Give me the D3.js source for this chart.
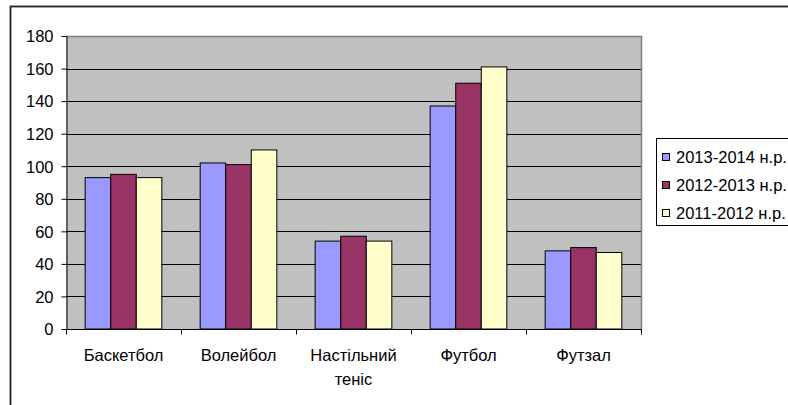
<!DOCTYPE html>
<html>
<head>
<meta charset="utf-8">
<script src="https://cdn.jsdelivr.net/npm/d3@7"></script>
<style>
  html, body { margin: 0; padding: 0; background: #fff; }
  svg { display: block; font-family: "Liberation Sans", Arial, sans-serif; }
</style>
</head>
<body>
<svg id="chart" width="788" height="405"></svg>
<script>
// Секції та кількість учасників за навчальні роки
const categories = ["Баскетбол", "Волейбол", "Настільний теніс", "Футбол", "Футзал"];
const seriesNames = ["2013-2014 н.р.", "2012-2013 н.р.", "2011-2012 н.р."];
const values2013_2014 = [93, 102, 54, 137, 48];
const values2012_2013 = [95, 101, 57, 151, 50];
const values2011_2012 = [93, 110, 54, 161, 47];
const yTicks = [0, 20, 40, 60, 80, 100, 120, 140, 160, 180];
const seriesColors = ["#9999FF", "#993366", "#FFFFCC"];

const seriesValues = [values2013_2014, values2012_2013, values2011_2012];
const FONT = "Liberation Sans, Arial, sans-serif";
const FS = 16.5;

const svg = d3.select("#chart");
const plot = { left: 66, top: 36, right: 641, bottom: 329 };

// Outer chart frame (extends past the right and bottom edges)
svg.append("rect")
  .attr("x", 10.5).attr("y", 6.5)
  .attr("width", 800).attr("height", 420)
  .attr("fill", "#fff").attr("stroke", "#222").attr("stroke-width", 1.8);

const x = d3.scaleBand().domain(categories).range([plot.left, plot.right]);
const y = d3.scaleLinear().domain([0, 180]).range([plot.bottom, plot.top]);

// Plot area background
svg.append("rect")
  .attr("x", plot.left).attr("y", plot.top)
  .attr("width", plot.right - plot.left).attr("height", plot.bottom - plot.top)
  .attr("fill", "#C0C0C0");

// Horizontal gridlines
svg.append("g").selectAll("line")
  .data(yTicks.filter(t => t > 0 && t < 180))
  .join("line")
  .attr("x1", plot.left).attr("x2", plot.right)
  .attr("y1", d => Math.round(y(d)) + 0.5).attr("y2", d => Math.round(y(d)) + 0.5)
  .attr("stroke", "#000").attr("stroke-width", 1);

// Plot area border (top and right)
svg.append("path")
  .attr("d", `M${plot.left},${plot.top + 0.5}H${plot.right + 0.5}V${plot.bottom}`)
  .attr("fill", "none").attr("stroke", "#808080").attr("stroke-width", 1.5);

// Bars
const inner = d3.scaleBand().domain(d3.range(seriesNames.length))
  .range([0, x.bandwidth()]).paddingInner(0).paddingOuter(0.75);

const groups = svg.append("g").selectAll("g")
  .data(categories)
  .join("g")
  .attr("transform", d => `translate(${x(d)},0)`);

groups.selectAll("rect")
  .data((c, ci) => seriesValues.map((vals, si) => ({ si, v: vals[ci] })))
  .join("rect")
  .attr("x", d => inner(d.si))
  .attr("y", d => y(d.v))
  .attr("width", inner.bandwidth())
  .attr("height", d => y(0) - y(d.v))
  .attr("fill", d => seriesColors[d.si])
  .attr("stroke", "#000").attr("stroke-width", 1);

// Y axis
const yAxis = svg.append("g")
  .attr("transform", `translate(${plot.left + 0.5},0)`)
  .call(d3.axisLeft(y).tickValues(yTicks).tickSize(5).tickPadding(8).tickSizeOuter(0));
yAxis.attr("font-size", FS).attr("font-family", FONT);
yAxis.select(".domain").attr("stroke", "#000");
yAxis.selectAll(".tick line").attr("stroke", "#000");
yAxis.selectAll("text").attr("fill", "#000").attr("dy", "0.35em");

// X axis with ticks at category boundaries
const xAxis = svg.append("g").attr("transform", `translate(0,${plot.bottom + 0.5})`);
xAxis.append("line")
  .attr("x1", plot.left).attr("x2", plot.right + 1)
  .attr("stroke", "#000");
xAxis.selectAll("line.tick")
  .data(categories.concat(["end"]))
  .join("line")
  .attr("class", "tick")
  .attr("x1", (d, i) => Math.round(i < categories.length ? x(d) : plot.right) + 0.5)
  .attr("x2", (d, i) => Math.round(i < categories.length ? x(d) : plot.right) + 0.5)
  .attr("y1", 0).attr("y2", 5)
  .attr("stroke", "#000");

// Category labels, wrapped where two words are present
const labelSplits = { "Настільний теніс": ["Настільний", "теніс"] };
xAxis.selectAll("text")
  .data(categories)
  .join("text")
  .attr("x", d => x(d) + x.bandwidth() / 2)
  .attr("y", 31.5)
  .attr("text-anchor", "middle")
  .attr("font-size", FS)
  .attr("font-family", FONT)
  .attr("fill", "#000")
  .each(function (d) {
    const lines = labelSplits[d] || [d];
    d3.select(this).selectAll("tspan")
      .data(lines)
      .join("tspan")
      .attr("x", x(d) + x.bandwidth() / 2)
      .attr("dy", (l, i) => i === 0 ? 0 : 24)
      .text(l => l);
  });

// Legend
const legend = svg.append("g");
legend.append("rect")
  .attr("x", 656.5).attr("y", 138.5)
  .attr("width", 160).attr("height", 87)
  .attr("fill", "#fff").attr("stroke", "#000").attr("stroke-width", 1);

const ly = d3.scalePoint().domain(seriesNames).range([157, 213]);
const items = legend.selectAll("g.item")
  .data(seriesNames)
  .join("g")
  .attr("class", "item")
  .attr("transform", d => `translate(0,${ly(d)})`);
items.append("rect")
  .attr("x", 662.5).attr("y", -3.5)
  .attr("width", 7).attr("height", 7)
  .attr("fill", (d, i) => seriesColors[i])
  .attr("stroke", "#000").attr("stroke-width", 1);
items.append("text")
  .attr("x", 676).attr("y", 5.5)
  .attr("font-size", FS)
  .attr("font-family", FONT)
  .attr("fill", "#000")
  .text(d => d);
</script>
</body>
</html>
